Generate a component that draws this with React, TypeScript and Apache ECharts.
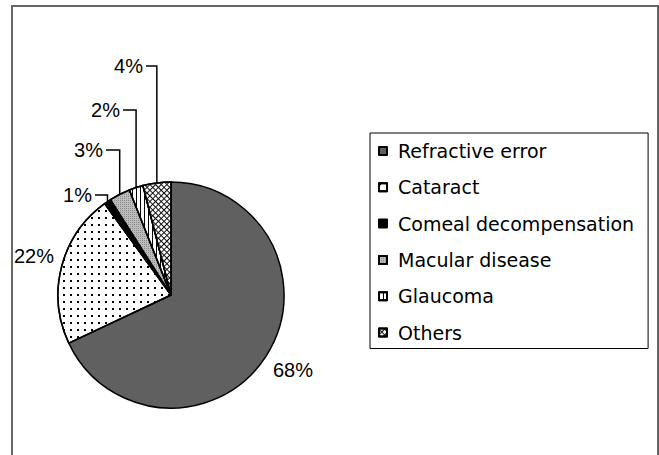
import React, { useEffect, useRef } from "react";
import * as echarts from "echarts";

const categories = [
  "Refractive error",
  "Cataract",
  "Comeal decompensation",
  "Macular disease",
  "Glaucoma",
  "Others",
];
const values = [68, 22, 1, 3, 2, 4];

// label anchor layout: [x, y, align]
const labelAnchors: [number, number, string][] = [
  [273, 370, "left"],
  [14, 256, "left"],
  [92, 195, "right"],
  [103, 150, "right"],
  [120, 110, "right"],
  [143, 66, "right"],
];

const fills = ["#606060", "#ffffff", "#000000", "#bdbdbd", "#ffffff", "#ffffff"];
const decals: any[] = [
  null,
  { symbol: "rect", symbolSize: 1, color: "#000", dashArrayX: [1.2, 4.6], dashArrayY: [1.2, 4.6] },
  null,
  { symbol: "rect", symbolSize: 1, color: "#8a8a8a", dashArrayX: [1, 1], dashArrayY: [1, 1] },
  { symbol: "rect", symbolSize: 1, color: "#000", dashArrayX: [1, 3], dashArrayY: [4, 0] },
  {
    symbol: "rect",
    symbolSize: 1,
    color: "#111",
    dashArrayX: [[4, 0], [1, 3]],
    dashArrayY: [1, 0, 3, 0],
    rotation: Math.PI / 4,
  },
];

export default function App() {
  const ref = useRef<HTMLDivElement>(null);
  useEffect(() => {
    const chart = echarts.init(ref.current!, null, { renderer: "svg" });
    const data = categories.map((name, i) => ({
      name,
      value: values[i],
      itemStyle: {
        color: fills[i],
        decal: decals[i] || undefined,
      },
      labelLine: { show: i >= 2 },
    }));
    chart.setOption({
      animation: false,
      backgroundColor: "#ffffff",
      aria: { enabled: false, decal: { show: true } },
      graphic: [
        {
          type: "rect",
          shape: { x: 12, y: 6, width: 646, height: 470 },
          style: { fill: "none", stroke: "#666", lineWidth: 2 },
          silent: true,
        },
      ],
      legend: {
        orient: "vertical",
        left: 370,
        top: 133,
        icon: "rect",
        itemWidth: 8,
        itemHeight: 8,
        itemGap: 16.3,
        padding: [8, 14, 6, 8],
        borderColor: "#000",
        borderWidth: 1,
        selectedMode: false,
        textStyle: {
          fontFamily: "DejaVu Sans",
          fontSize: 19,
          lineHeight: 20,
          color: "#000",
          padding: [0, 0, 0, 6],
        },
        data: categories,
      },
      series: [
        {
          type: "pie",
          center: [171, 295],
          radius: 113,
          startAngle: 90,
          clockwise: true,
          avoidLabelOverlap: false,
          itemStyle: { borderColor: "#000", borderWidth: 1.5 },
          emphasis: { disabled: true },
          label: {
            show: true,
            position: "outside",
            formatter: "{c}%",
            fontFamily: "Liberation Sans",
            fontSize: 20,
            color: "#000",
            overflow: "none",
            edgeDistance: 0,
            bleedMargin: 0,
          },
          labelLine: {
            show: true,
            lineStyle: { color: "#000", width: 1.5 },
          },
          labelLayout: (params: any) => {
            const a = labelAnchors[params.dataIndex];
            const res: any = {
              x: a[0],
              y: a[1],
              align: a[2],
              verticalAlign: "middle",
              hideOverlap: false,
            };
            const pts = params.labelLinePoints;
            if (params.dataIndex >= 2 && pts && pts[0]) {
              const edge = pts[0];
              res.labelLinePoints = [
                [edge[0], edge[1]],
                [edge[0], a[1]],
                [a[0] + 3, a[1]],
              ];
            }
            return res;
          },
          data,
        },
      ],
    });
    return () => chart.dispose();
  }, []);
  return (
    <div
      ref={ref}
      style={{ position: "absolute", left: 0, top: 0, width: 659, height: 455 }}
    />
  );
}
